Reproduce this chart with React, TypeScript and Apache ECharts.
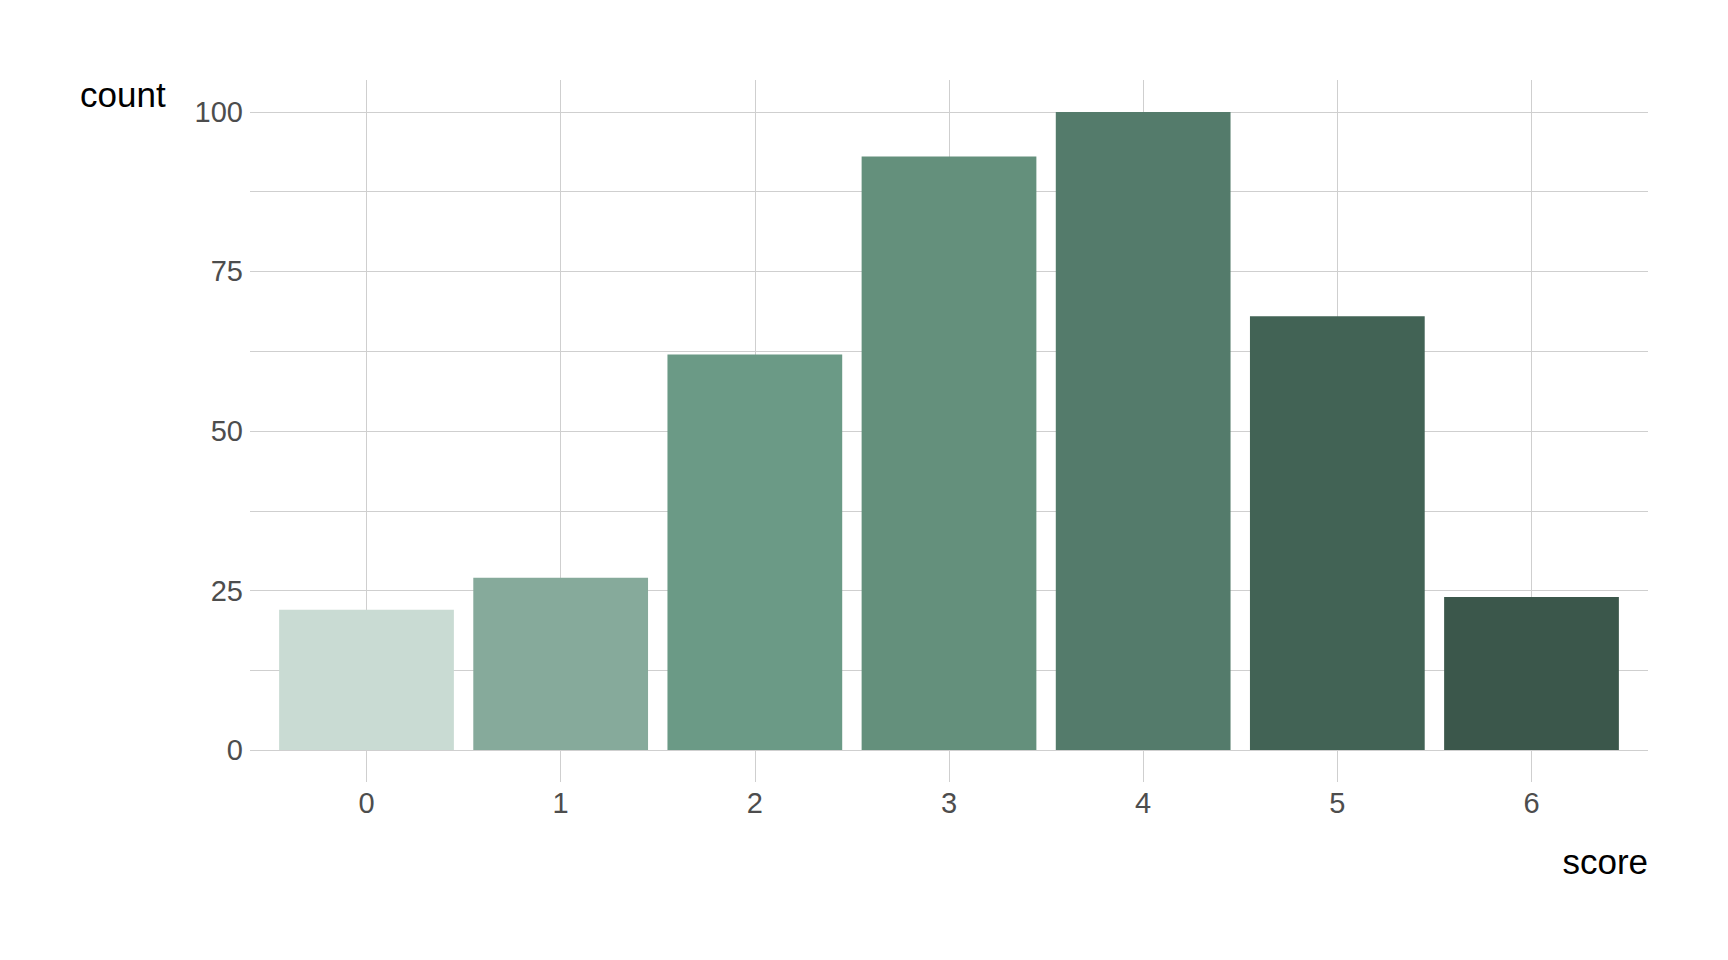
import React, { useEffect, useRef } from "react";
import * as echarts from "echarts";

const scores = [0, 1, 2, 3, 4, 5, 6];
const counts = [22, 27, 62, 93, 100, 68, 24];
const barColors = ["#C9DBD3", "#86AA9B", "#6B9A86", "#64907C", "#547B6B", "#426355", "#3B574B"];
const yMajorTicks = [0, 25, 50, 75, 100];
const yGridTicks = [0, 12.5, 25, 37.5, 50, 62.5, 75, 87.5, 100];

const FONT = "'Liberation Sans', Arial, sans-serif";
const GRID_COLOR = "#cfcfcf";

export default function App() {
  const ref = useRef<HTMLDivElement>(null);
  useEffect(() => {
    document.body.style.margin = "0";
    const chart = echarts.init(ref.current!, null, { renderer: "svg" });
    chart.setOption({
      animation: false,
      backgroundColor: "#ffffff",
      grid: { left: 250, right: 80, top: 80, bottom: 178 },
      xAxis: {
        type: "value",
        min: -0.6,
        max: 6.6,
        axisLine: { show: false },
        axisTick: { show: false, customValues: scores },
        axisLabel: {
          customValues: scores,
          color: "#4d4d4d",
          fontFamily: FONT,
          fontSize: 29,
          margin: 6,
          formatter: (v: number) => String(Math.round(v)),
        },
        splitLine: { show: true, lineStyle: { color: GRID_COLOR, width: 1 } },
      },
      yAxis: {
        type: "value",
        min: -5,
        max: 105,
        axisLine: { show: false },
        axisTick: { show: false, customValues: yGridTicks },
        axisLabel: {
          customValues: yMajorTicks,
          color: "#4d4d4d",
          fontFamily: FONT,
          fontSize: 29,
          margin: 7,
          padding: [3, 0, 0, 0],
        },
        splitLine: { show: true, lineStyle: { color: GRID_COLOR, width: 1 } },
      },
      graphic: [
        {
          type: "text",
          left: 80,
          top: 77,
          style: { text: "count", font: `35px ${FONT}`, fill: "#000000" },
        },
        {
          type: "text",
          right: 80,
          top: 844,
          style: { text: "score", font: `35px ${FONT}`, fill: "#000000" },
        },
      ],
      series: [
        {
          type: "bar",
          barWidth: "90%",
          data: scores.map((s, i) => ({
            value: [s, counts[i]],
            itemStyle: { color: barColors[i] },
          })),
        },
      ],
    });
    return () => chart.dispose();
  }, []);
  return <div ref={ref} style={{ width: 1728, height: 960 }} />;
}
